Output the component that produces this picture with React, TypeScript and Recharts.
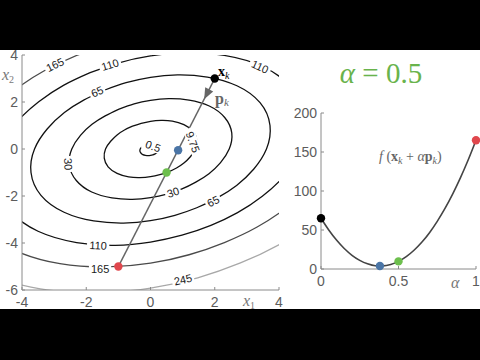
import React from "react";
import { ComposedChart, Line, Scatter, XAxis, YAxis } from "recharts";

const xTicks = [-4, -2, 0, 2, 4];
const yTicks = [-6, -4, -2, 0, 2, 4];
const alphaTicks = [0, 0.5, 1];
const fTicks = [0, 50, 100, 150, 200];

// contour outlines traced every 15 degrees around the minimum
const ring05 = [
  [0.32, 0], [0.33, 0.09], [0.3, 0.17], [0.24, 0.24], [0.16, 0.27], [0.07, 0.28],
  [0, 0.27], [-0.07, 0.25], [-0.13, 0.22], [-0.18, 0.18], [-0.23, 0.14], [-0.28, 0.08],
  [-0.32, 0], [-0.33, -0.09], [-0.3, -0.17], [-0.24, -0.24], [-0.16, -0.27], [-0.07, -0.28],
  [0, -0.27], [0.07, -0.25], [0.13, -0.22], [0.18, -0.18], [0.23, -0.14], [0.28, -0.08],
];
const ring975 = [
  [1.4, 0], [1.44, 0.39], [1.32, 0.76], [1.04, 1.04], [0.68, 1.19], [0.33, 1.22],
  [0, 1.18], [-0.29, 1.09], [-0.56, 0.97], [-0.81, 0.81], [-1.04, 0.6], [-1.24, 0.33],
  [-1.4, 0], [-1.44, -0.39], [-1.32, -0.76], [-1.04, -1.04], [-0.68, -1.19], [-0.33, -1.22],
  [0, -1.18], [0.29, -1.09], [0.56, -0.97], [0.81, -0.81], [1.04, -0.6], [1.24, -0.33],
];
const ring30 = [
  [2.45, 0], [2.53, 0.68], [2.31, 1.34], [1.83, 1.83], [1.2, 2.08], [0.57, 2.14],
  [0, 2.07], [-0.51, 1.92], [-0.98, 1.7], [-1.41, 1.41], [-1.82, 1.05], [-2.18, 0.58],
  [-2.45, 0], [-2.53, -0.68], [-2.31, -1.34], [-1.83, -1.83], [-1.2, -2.08], [-0.57, -2.14],
  [0, -2.07], [0.51, -1.92], [0.98, -1.7], [1.41, -1.41], [1.82, -1.05], [2.18, -0.58],
];
const ring65 = [
  [3.61, 0], [3.72, 1.0], [3.41, 1.97], [2.69, 2.69], [1.77, 3.06], [0.84, 3.15],
  [0, 3.05], [-0.76, 2.82], [-1.44, 2.5], [-2.08, 2.08], [-2.68, 1.55], [-3.21, 0.86],
  [-3.61, 0], [-3.72, -1.0], [-3.41, -1.97], [-2.69, -2.69], [-1.77, -3.06], [-0.84, -3.15],
  [0, -3.05], [0.76, -2.82], [1.44, -2.5], [2.08, -2.08], [2.68, -1.55], [3.21, -0.86],
];
const ring110 = [
  [4.69, 0], [4.84, 1.3], [4.43, 2.56], [3.5, 3.5], [2.3, 3.98], [1.1, 4.1],
  [0, 3.96], [-0.98, 3.67], [-1.88, 3.25], [-2.71, 2.71], [-3.48, 2.01], [-4.18, 1.12],
  [-4.69, 0], [-4.84, -1.3], [-4.43, -2.56], [-3.5, -3.5], [-2.3, -3.98], [-1.1, -4.1],
  [0, -3.96], [0.98, -3.67], [1.88, -3.25], [2.71, -2.71], [3.48, -2.01], [4.18, -1.12],
];
const ring165 = [
  [5.74, 0], [5.93, 1.59], [5.43, 3.13], [4.28, 4.28], [2.82, 4.88], [1.34, 5.02],
  [0, 4.86], [-1.2, 4.5], [-2.3, 3.98], [-3.32, 3.32], [-4.27, 2.46], [-5.12, 1.37],
  [-5.74, 0], [-5.93, -1.59], [-5.43, -3.13], [-4.28, -4.28], [-2.82, -4.88], [-1.34, -5.02],
  [0, -4.86], [1.2, -4.5], [2.3, -3.98], [3.32, -3.32], [4.27, -2.46], [5.12, -1.37],
];
const ring245 = [
  [7.0, 0], [7.22, 1.94], [6.61, 3.82], [5.22, 5.22], [3.43, 5.95], [1.64, 6.11],
  [0, 5.92], [-1.47, 5.48], [-2.8, 4.85], [-4.04, 4.04], [-5.2, 3.0], [-6.23, 1.67],
  [-7.0, 0], [-7.22, -1.94], [-6.61, -3.82], [-5.22, -5.22], [-3.43, -5.95], [-1.64, -6.11],
  [0, -5.92], [1.47, -5.48], [2.8, -4.85], [4.04, -4.04], [5.2, -3.0], [6.23, -1.67],
];

const labelText = ["165", "110", "110", "65", "0.5", "9.75", "30", "30", "65", "110", "165", "245"];
const labelX = [-2.97, -1.26, 3.41, -1.66, 0.08, 1.32, -2.56, 0.7, 1.95, -1.63, -1.57, 1.01];
const labelY = [3.59, 3.59, 3.5, 2.44, 0.12, 0.3, -0.64, -1.84, -2.22, -4.1, -5.09, -5.56];

// x_k, line-search minimum, alpha = 0.5, alpha = 1
const stepX = [2, 0.86, 0.5, -1];
const stepY = [3, -0.05, -1, -5];
const arrowAt = { x: 1.67, y: 2.12 };

const alphaSteps = [0, 0.05, 0.1, 0.15, 0.2, 0.25, 0.3, 0.35, 0.4, 0.45, 0.5, 0.55, 0.6, 0.65, 0.7, 0.75, 0.8, 0.85, 0.9, 0.95, 1];
const lineValues = [65, 50, 37.1, 26.3, 17.6, 11.1, 6.6, 4.2, 4.0, 5.8, 9.75, 15.8, 24, 34.2, 46.6, 61.1, 77.6, 96.3, 117.1, 140, 165];
const markAlpha = [0, 0.38, 0.5, 1];
const markValue = [65, 3.8, 9.75, 165];

const dotColors = ["#000000", "#4a75a6", "#6dbf4d", "#e0474d"];
const ringColors = ["#111", "#111", "#111", "#111", "#111", "#4a4a4a", "#a8a8a8"];
const labelTilt = [-26, -17, 24, -24, 20, 70, 87, -18, -27, 3, 0, -13];

const rings = [ring05, ring975, ring30, ring65, ring110, ring165, ring245];
const loop = (r: number[][]) => [...r.slice(8), ...r.slice(0, 9)].map(([x, y]) => ({ x, y }));

const contourLabels = labelText.map((t, i) => ({ x: labelX[i], y: labelY[i], text: t, i }));
const stepDots = stepX.map((x, i) => ({ x, y: stepY[i], i }));
const pathLine = [stepDots[0], stepDots[3]];
const curve = alphaSteps.map((a, i) => ({ x: a, y: lineValues[i] }));
const curveDots = markAlpha.map((a, i) => ({ x: a, y: markValue[i], i }));

const sans = "'Liberation Sans', Arial, Helvetica, sans-serif";
const serif = "'Liberation Serif', 'Times New Roman', serif";
const axisGray = "#8a8a8a";
const tickStyle = { fill: "#5c5c5c", fontSize: 14, fontFamily: sans };

const ContourLabel = (p: any) => {
  const { cx, cy, payload } = p;
  const w = payload.text.length * 6.1 + 4;
  return (
    <g transform={`translate(${cx},${cy}) rotate(${labelTilt[payload.i]})`}>
      <rect x={-w / 2} y={-5.5} width={w} height={11} fill="#fff" />
      <text x={0} y={4} textAnchor="middle" fontSize={11} fill="#1a1a1a" fontFamily={sans}>
        {payload.text}
      </text>
    </g>
  );
};

const Dot = (p: any) => <circle cx={p.cx} cy={p.cy} r={4.2} fill={dotColors[p.payload.i]} />;

const Arrow = (p: any) => (
  <g transform={`translate(${p.cx},${p.cy}) rotate(117.3)`}>
    <polygon points="0,0 -11,-4.5 -11,4.5" fill="#666" />
  </g>
);

export default function App() {
  return (
    <div style={{ position: "absolute", left: 0, top: 0, width: 480, height: 360, background: "#000", overflow: "hidden" }}>
      <div style={{ position: "absolute", left: 0, top: 50, width: 480, height: 259, background: "#fff" }} />

      <div style={{ position: "absolute", left: 0, top: 0 }}>
        <ComposedChart width={290} height={310} margin={{ top: 55, left: 0, right: 11, bottom: 0 }}>
          <XAxis
            type="number"
            dataKey="x"
            domain={[-4, 4]}
            ticks={xTicks}
            allowDataOverflow
            height={20}
            stroke={axisGray}
            tickSize={-3}
            tickMargin={10}
            tick={tickStyle}
          />
          <YAxis
            type="number"
            dataKey="y"
            domain={[-6, 4]}
            ticks={yTicks}
            allowDataOverflow
            width={22}
            stroke={axisGray}
            tickSize={-3}
            tickMargin={7}
            tick={tickStyle}
          />
          {rings.map((r, i) => (
            <Line
              key={i}
              data={loop(r)}
              dataKey="y"
              type="natural"
              stroke={ringColors[i]}
              strokeWidth={1.3}
              dot={false}
              activeDot={false}
              isAnimationActive={false}
            />
          ))}
          <Scatter data={contourLabels} dataKey="y" shape={ContourLabel} isAnimationActive={false} />
          <Line data={pathLine} dataKey="y" type="linear" stroke="#666" strokeWidth={1.6} dot={false} activeDot={false} isAnimationActive={false} />
          <Scatter data={[arrowAt]} dataKey="y" shape={Arrow} isAnimationActive={false} />
          <Scatter data={stepDots} dataKey="y" shape={Dot} isAnimationActive={false} />
        </ComposedChart>
      </div>

      <div style={{ position: "absolute", left: 290, top: 0 }}>
        <ComposedChart width={190} height={310} margin={{ top: 113, left: 0, right: 4, bottom: 0 }}>
          <XAxis
            type="number"
            dataKey="x"
            domain={[0, 1]}
            ticks={alphaTicks}
            height={41}
            stroke={axisGray}
            tickSize={-3}
            tickMargin={10}
            tick={tickStyle}
          />
          <YAxis
            type="number"
            dataKey="y"
            domain={[0, 200]}
            ticks={fTicks}
            width={31}
            stroke={axisGray}
            tickSize={-3}
            tickMargin={7}
            tick={tickStyle}
          />
          <Line data={curve} dataKey="y" type="monotone" stroke="#444" strokeWidth={1.6} dot={false} activeDot={false} isAnimationActive={false} />
          <Scatter data={curveDots} dataKey="y" shape={Dot} isAnimationActive={false} />
        </ComposedChart>
      </div>

      <svg width={480} height={360} style={{ position: "absolute", left: 0, top: 0, pointerEvents: "none" }}>
        <text x={2} y={80} fontFamily={serif} fontSize={16} fill="#777">
          <tspan fontStyle="italic">x</tspan>
          <tspan fontSize={10} dy={3}>2</tspan>
        </text>
        <text x={243} y={306} fontFamily={serif} fontSize={16} fill="#777">
          <tspan fontStyle="italic">x</tspan>
          <tspan fontSize={10} dy={3}>1</tspan>
        </text>
        <text x={218} y={76} fontFamily={serif} fontSize={14} fill="#000">
          <tspan fontWeight="bold">x</tspan>
          <tspan fontStyle="italic" fontSize={10} dy={3}>k</tspan>
        </text>
        <text x={215} y={104} fontFamily={serif} fontSize={16} fill="#666">
          <tspan fontWeight="bold">p</tspan>
          <tspan fontStyle="italic" fontSize={11} dy={2}>k</tspan>
        </text>
        <text x={381} y={83} textAnchor="middle" fontFamily={serif} fontSize={29} fill="#69b34c">
          <tspan fontStyle="italic">α</tspan> = 0.5
        </text>
        <text x={379} y={161} fontFamily={serif} fontSize={14} fill="#666">
          <tspan fontStyle="italic">f</tspan>
          <tspan> (</tspan>
          <tspan fontWeight="bold">x</tspan>
          <tspan fontStyle="italic" fontSize={10} dy={3}>k</tspan>
          <tspan dy={-3}> + </tspan>
          <tspan fontStyle="italic">α</tspan>
          <tspan fontWeight="bold">p</tspan>
          <tspan fontStyle="italic" fontSize={10} dy={3}>k</tspan>
          <tspan dy={-3}>)</tspan>
        </text>
        <text x={451} y={288} fontFamily={serif} fontSize={16} fontStyle="italic" fill="#777">
          α
        </text>
      </svg>
    </div>
  );
}
